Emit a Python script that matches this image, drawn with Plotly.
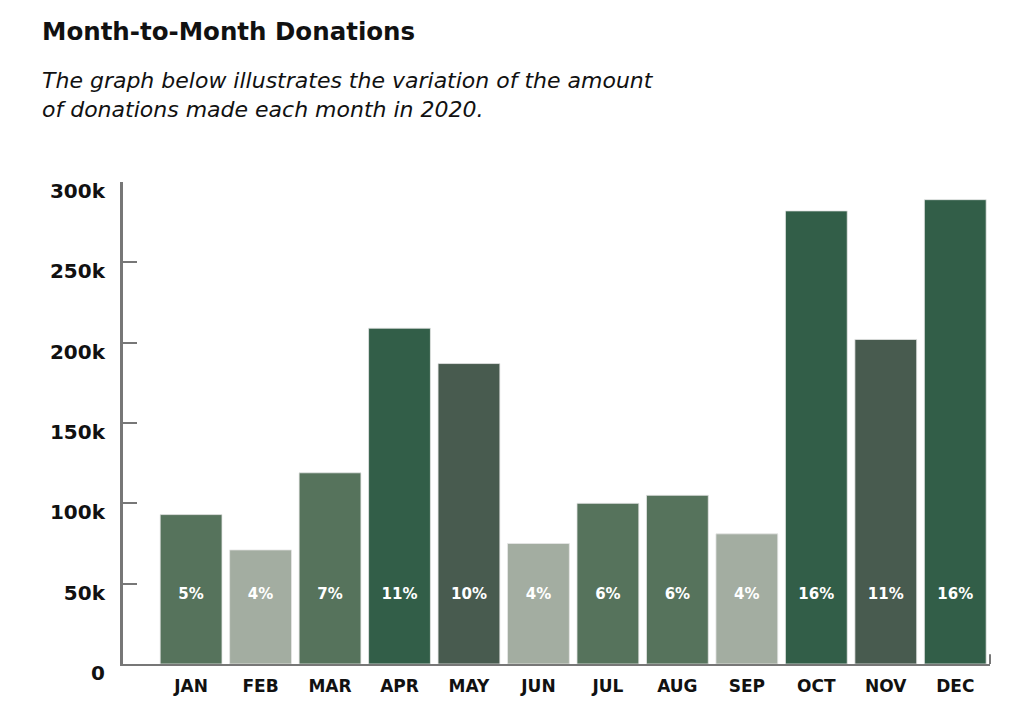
import plotly.graph_objects as go

months = ["JAN", "FEB", "MAR", "APR", "MAY", "JUN", "JUL", "AUG", "SEP", "OCT", "NOV", "DEC"]
donations = [93000, 71000, 119000, 209000, 187000, 75000, 100000, 105000, 81000, 282000, 202000, 289000]
shares = ["5%", "4%", "7%", "11%", "10%", "4%", "6%", "6%", "4%", "16%", "11%", "16%"]
bar_colors = ["#56735C", "#A3ADA1", "#56735C", "#325E48", "#485B4F", "#A3ADA1",
              "#56735C", "#56735C", "#A3ADA1", "#325E48", "#485B4F", "#325E48"]
tick_vals = [0, 50000, 100000, 150000, 200000, 250000, 300000]
tick_text = ["0", "50k", "100k", "150k", "200k", "250k", "300k"]
label_level = 43000  # height at which share labels sit

FONT = "DejaVu Sans"

fig = go.Figure()
fig.add_trace(go.Bar(
    x=months, y=donations,
    marker=dict(color=bar_colors, line=dict(color="rgba(230,230,230,0.8)", width=1)),
    width=0.89, hoverinfo="x+y", showlegend=False,
))
fig.add_trace(go.Scatter(
    x=months, y=[label_level] * len(months), mode="text", text=shares,
    textfont=dict(family=FONT, size=15, color="white", weight="bold"),
    hoverinfo="skip", showlegend=False,
))

fig.update_layout(
    width=1024, height=718,
    paper_bgcolor="white", plot_bgcolor="white",
    margin=dict(l=115, r=42, t=174, b=62),
    bargap=0.11,
    xaxis=dict(
        range=[-0.98, 11.5], showgrid=False, zeroline=False, automargin=False,
        showline=True, linecolor="#777777", linewidth=2,
        ticks="", tickfont=dict(family=FONT, size=17, color="#111111", weight="bold"),
        ticklabelstandoff=6,
    ),
    yaxis=dict(
        range=[0, 300000], showgrid=False, zeroline=False, automargin=False,
        showline=True, linecolor="#777777", linewidth=3,
        tickmode="array", tickvals=tick_vals, ticktext=tick_text,
        ticks="inside", ticklen=14, tickwidth=2, tickcolor="#777777",
        tickfont=dict(family=FONT, size=20, color="#111111", weight="bold"),
        ticklabelshift=9, ticklabelstandoff=11,
    ),
    font=dict(family=FONT),
)

fig.add_shape(type="line", xref="paper", yref="paper", x0=1, x1=1, y0=0, y1=0.02,
              line=dict(color="#777777", width=2))

fig.add_annotation(text="<b>Month-to-Month Donations</b>", xref="paper", yref="paper",
                   x=-0.0957, y=1.313, xanchor="left", yanchor="middle", showarrow=False,
                   font=dict(family=FONT, size=24.5, color="#111111"))
fig.add_annotation(text="<i>The graph below illustrates the variation of the amount</i>",
                   xref="paper", yref="paper", x=-0.0957, y=1.2116, xanchor="left", yanchor="middle",
                   align="left", showarrow=False,
                   font=dict(family=FONT, size=22, color="#111111"))
fig.add_annotation(text="<i>of donations made each month in 2020.</i>",
                   xref="paper", yref="paper", x=-0.0957, y=1.1494, xanchor="left", yanchor="middle",
                   align="left", showarrow=False,
                   font=dict(family=FONT, size=22, color="#111111"))

fig.write_html("out.html")
